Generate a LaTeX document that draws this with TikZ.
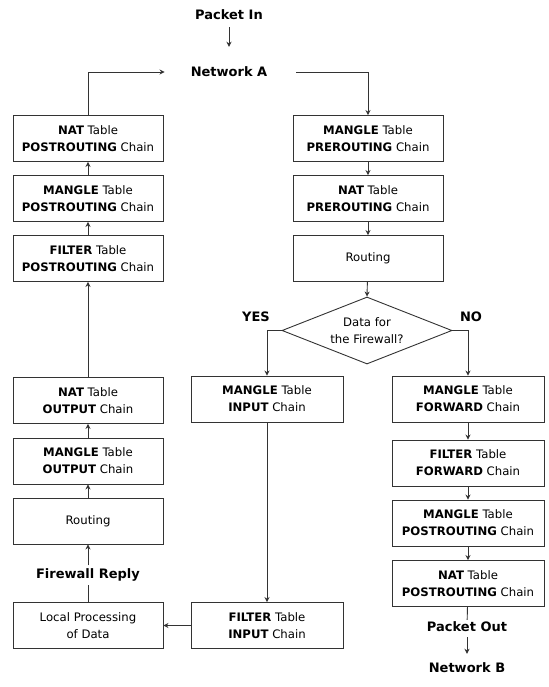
\documentclass[tikz,border=0pt]{standalone}
\usepackage{fontspec}
\setmainfont{DejaVu Sans}
\usetikzlibrary{shapes.geometric,arrows.meta}
\tikzset{
  box/.style={draw=black!80, line width=0.9pt, rectangle, minimum width=150pt, minimum height=46pt, inner sep=0pt, align=center, font=\fontsize{11.7}{17}\selectfont},
  decide/.style={draw=black!80, line width=0.9pt, diamond, aspect=2.5, minimum width=170pt, minimum height=67pt, inner sep=0pt, align=center, font=\fontsize{11.7}{17}\selectfont},
  lbl/.style={inner sep=0pt, font=\fontsize{13}{16}\selectfont\bfseries},
  conn/.style={draw=black!80, line width=0.9pt},
  arr/.style={conn, -{Stealth[length=5pt,width=5pt]}}
}
\begin{document}
\begin{tikzpicture}[x=1pt,y=-1pt]
\useasboundingbox[fill=white] (0,0) rectangle (548,687);
% labels
\node[lbl] (pin) at (229,15) {Packet In};
\node[lbl] (neta) at (229,72) {Network A};
\node[lbl] (freply) at (88,575) {Firewall Reply};
\node[lbl] (pout) at (467,627) {Packet Out};
\node[lbl] (netb) at (467,668) {Network B};
\node[lbl] (yes) at (256,317) {YES};
\node[lbl] (no) at (471,317) {NO};
% left column
\node[box] (lnatpost) at (88,138.5) {\textbf{NAT} Table\\\textbf{POSTROUTING} Chain};
\node[box] (lmanpost) at (88,198.5) {\textbf{MANGLE} Table\\\textbf{POSTROUTING} Chain};
\node[box] (lfilpost) at (88,258.5) {\textbf{FILTER} Table\\\textbf{POSTROUTING} Chain};
\node[box] (lnatout) at (88,400.5) {\textbf{NAT} Table\\\textbf{OUTPUT} Chain};
\node[box] (lmanout) at (88,461) {\textbf{MANGLE} Table\\\textbf{OUTPUT} Chain};
\node[box] (lrout) at (88,521) {Routing};
\node[box] (local) at (88,625.5) {Local Processing\\of Data};
% middle column
\node[box, minimum width=152pt] (manin) at (267,399) {\textbf{MANGLE} Table\\\textbf{INPUT} Chain};
\node[box, minimum width=152pt] (filin) at (267,625.5) {\textbf{FILTER} Table\\\textbf{INPUT} Chain};
% right-centre column
\node[box] (manpre) at (368,138.5) {\textbf{MANGLE} Table\\\textbf{PREROUTING} Chain};
\node[box] (natpre) at (368,198.5) {\textbf{NAT} Table\\\textbf{PREROUTING} Chain};
\node[box] (rrout) at (368,258.5) {Routing};
\node[decide] (dia) at (367,330.5) {Data for\\the Firewall?};
% right column
\node[box, minimum width=152pt] (manfwd) at (468,399) {\textbf{MANGLE} Table\\\textbf{FORWARD} Chain};
\node[box, minimum width=152pt] (filfwd) at (468,463) {\textbf{FILTER} Table\\\textbf{FORWARD} Chain};
\node[box, minimum width=152pt] (manpostr) at (468,523) {\textbf{MANGLE} Table\\\textbf{POSTROUTING} Chain};
\node[box, minimum width=152pt] (natpostr) at (468,583.5) {\textbf{NAT} Table\\\textbf{POSTROUTING} Chain};
% connectors
\draw[arr, shorten <=7pt, shorten >=20pt] (pin) -- (neta);
\draw[arr, shorten >=26pt] (lnatpost.north) |- (neta.west);
\draw[arr, shorten <=29pt] (neta.east) -| (manpre.north);
\draw[arr] (manpre) -- (natpre);
\draw[arr] (natpre) -- (rrout);
\draw[arr] (rrout) -- (dia.north);
\draw[arr] (dia.west) -| (manin.north);
\draw[arr] (dia.east) -| (manfwd.north);
\draw[arr] (manin) -- (filin);
\draw[arr] (filin) -- (local);
\draw[conn, shorten >=3pt] (local) -- (freply);
\draw[arr, shorten <=3pt] (freply) -- (lrout);
\draw[arr] (lrout) -- (lmanout);
\draw[arr] (lmanout) -- (lnatout);
\draw[arr] (lnatout) -- (lfilpost);
\draw[arr] (lfilpost) -- (lmanpost);
\draw[arr] (lmanpost) -- (lnatpost);
\draw[arr] (manfwd) -- (filfwd);
\draw[arr] (filfwd) -- (manpostr);
\draw[arr] (manpostr) -- (natpostr);
\draw[conn, shorten >=2pt] (natpostr) -- (pout);
\draw[arr, shorten <=5pt, shorten >=9pt] (pout) -- (netb);
\end{tikzpicture}
\end{document}
